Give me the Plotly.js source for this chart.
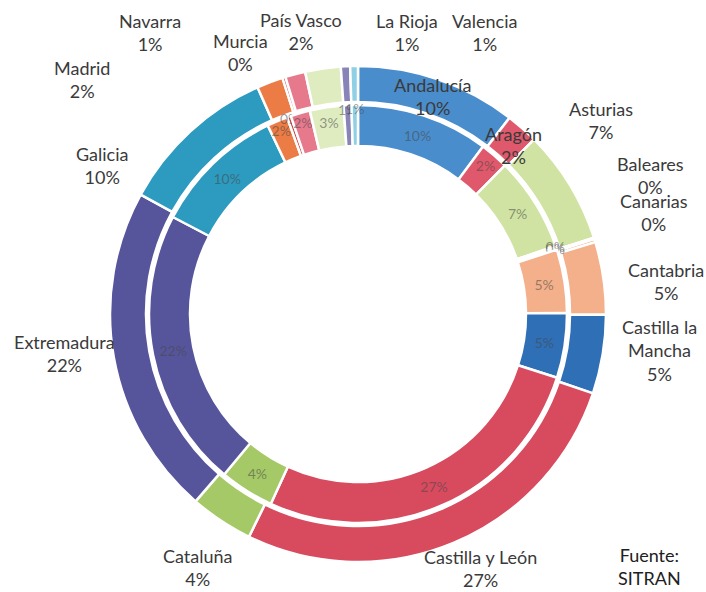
<!DOCTYPE html>
<html>
<head>
<meta charset="utf-8">
<script src="https://cdn.plot.ly/plotly-3.0.1.min.js"></script>
<style>html,body{margin:0;padding:0;background:#fff;}#chart{width:706px;height:592px;}</style>
</head>
<body>
<div id="chart"></div>
<script>
// ---- data ----
const categories = ["Andalucía","Aragón","Asturias","Baleares","Canarias","Cantabria","Castilla la Mancha","Castilla y León","Cataluña","Extremadura","Galicia","Madrid","Murcia","Navarra","País Vasco","La Rioja","Valencia"];
const outerValues = [10.4, 2.1, 7.4, 0.1, 0.2, 4.7, 5.1, 26.9, 4.1, 21.5, 10.3, 1.7, 0.2, 1.3, 2.3, 0.6, 0.5];
const innerValues = [10.2, 2.2, 7.3, 0.1, 0.2, 4.9, 5.0, 26.9, 4.2, 21.6, 10.2, 1.6, 0.3, 1.5, 2.6, 0.6, 0.5];
const sourceText = "Fuente:<br>SITRAN";

// ---- styles / layout helpers ----
const colors = ["#4a8dcc","#e0586b","#d0e3a2","#d0e3a2","#f3b08a","#f3b08a","#2f6fb5","#d84a5e","#a5c966","#56559c","#2c9bbf","#eb7c45","#cc4444","#e7798d","#deecc0","#8884b8","#8fd0e4"];
// label block centres in pixels (x, y from top)
const labelPos = [[432,97],[513,145],[601,120],[650,175],[654,212],[666,281],[659,350],[480,568],[198,567],[64,353],[102,165],[82,79],[240,53],[150,33],[301,31],[407,33],[484,33]];
const W = 706, H = 592;
const cx = 358, cy = 314, rOuter = 248, rGap = 210, rHole = 168;

function domainFor(r){
  return {x:[(cx-r)/W,(cx+r)/W], y:[(H-cy-r)/H,(H-cy+r)/H]};
}
const fontFam = "Lato, 'Open Sans', sans-serif";

const outer = {
  type:'pie', values: outerValues, labels: categories, sort:false, direction:'clockwise', rotation:0,
  domain: domainFor(rOuter), hole: (rGap+2)/rOuter,
  marker:{colors: colors, line:{color:'#ffffff', width:2.5}},
  textinfo:'none', hoverinfo:'label+value', showlegend:false
};
const inner = {
  type:'pie', values: innerValues, labels: categories, sort:false, direction:'clockwise', rotation:0,
  domain: domainFor(rGap-1), hole: rHole/(rGap-1),
  marker:{colors: colors, line:{color:'#ffffff', width:2.5}},
  textinfo:'text', texttemplate:'%{value:.0f}%', textposition:'inside', insidetextorientation:'horizontal',
  textfont:{family:fontFam, size:14, color:'rgba(70,70,70,0.55)'},
  hoverinfo:'label+value', showlegend:false
};

const annotations = categories.map((c,i)=>({
  xref:'paper', yref:'paper', x: labelPos[i][0]/W, y: 1-labelPos[i][1]/H,
  xanchor:'center', yanchor:'middle', showarrow:false, align:'center',
  text: c.replace('Castilla la Mancha','Castilla la<br>Mancha') + '<br>' + Math.round(outerValues[i]) + '%',
  font:{family:fontFam, size:18, color:'#3a3a3a'}
}));
annotations.push({xref:'paper', yref:'paper', x:649/W, y:1-566/H, xanchor:'center', yanchor:'middle', showarrow:false, align:'center', text: sourceText, font:{family:fontFam, size:18, color:'#202020'}});

const layout = {
  width:W, height:H, margin:{l:0,r:0,t:0,b:0},
  paper_bgcolor:'#ffffff', plot_bgcolor:'#ffffff',
  uniformtext:{mode:'show', minsize:14},
  annotations: annotations
};
Plotly.newPlot('chart',[outer, inner], layout, {displayModeBar:false, staticPlot:true});
</script>
</body>
</html>
